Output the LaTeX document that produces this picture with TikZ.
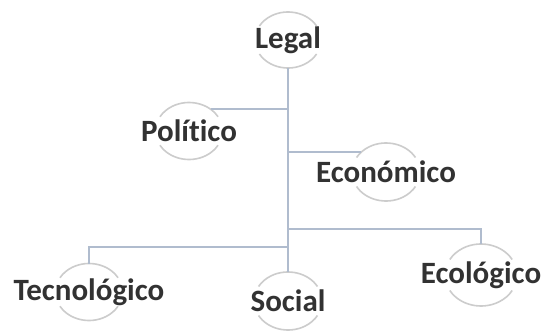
\documentclass[tikz,border=0pt]{standalone}
\usepackage{fontspec}
\setmainfont{Carlito}[Ligatures=NoCommon]
\definecolor{linea}{RGB}{176,188,206}
\definecolor{arco}{RGB}{204,204,204}
\definecolor{texto}{RGB}{50,50,50}

\begin{document}
\begin{tikzpicture}[x=1pt,y=1pt]
\tikzstyle{every node}=[font=\fontsize{31}{32}\selectfont\bfseries, text=texto, inner sep=0pt]
\tikzstyle{rama}=[linea, line width=2.2pt]
\tikzstyle{borde}=[arco, line width=1.6pt]

% white background, same size as the picture
\useasboundingbox[fill=white] (0,0) rectangle (544,333);

% the topics
\node (legal) at (288,293) {Legal};
\node (pol) at (189,202) {Político};
\node (econ) at (386,161) {Económico};
\node (tec) at (89,41) {Tecnológico};
\node (soc) at (288,32) {Social};
\node (ecol) at (481,58) {Ecológico};

% arcs above and below each topic
\foreach \n/\r in {legal/28,pol/28.5,econ/29,tec/28.5,soc/29,ecol/31}
{
	\draw [borde] ([shift={(30:\r pt+5pt and \r pt)}]\n.center) arc[start angle=30, end angle=150, x radius=\r pt+5pt, y radius=\r pt];
	\draw [borde] ([shift={(210:\r pt+5pt and \r pt)}]\n.center) arc[start angle=210, end angle=330, x radius=\r pt+5pt, y radius=\r pt];
}

% branch points
\coordinate (bizq) at (288,86);
\coordinate (bder) at (288,104);
\coordinate (pol-in) at ([shift={(50:33.5pt and 28.5pt)}]pol.center);
\coordinate (econ-in) at ([shift={(137:34pt and 29pt)}]econ.center);

% trunk and branches
\draw [rama] ([yshift=-28pt]legal.center) -- ([yshift=29pt]soc.center);
\draw [rama] (pol-in) -- (pol-in -| legal);
\draw [rama] (econ-in) -- (econ-in -| legal);
\draw [rama] ([yshift=28.5pt]tec.center) |- (bizq);
\draw [rama] ([yshift=31pt]ecol.center) |- (bder);

\end{tikzpicture}
\end{document}
